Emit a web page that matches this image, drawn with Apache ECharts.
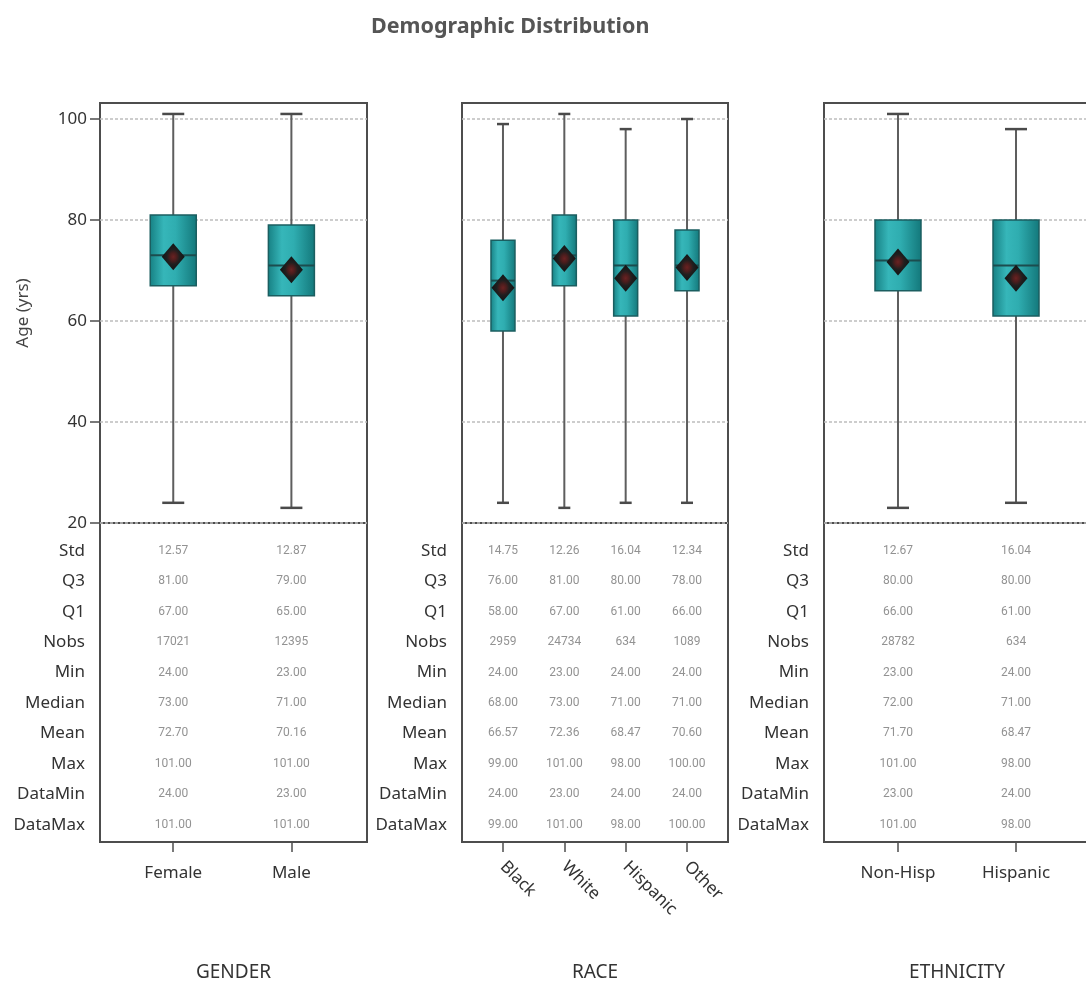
<!DOCTYPE html>
<html><head><meta charset="utf-8">
<script src="https://cdn.jsdelivr.net/npm/echarts@6/dist/echarts.min.js"></script>
<style>html,body{margin:0;padding:0;background:#fff}#c{width:1086px;height:991px}</style>
</head><body><div id="c"></div>
<script>
// ---------- DATA ----------
const rowNames = ['Std','Q3','Q1','Nobs','Min','Median','Mean','Max','DataMin','DataMax'];
const yTicks = [20, 40, 60, 80, 100];

const genderCats    = ['Female', 'Male'];
const genderStd     = [12.57, 12.87];
const genderQ3      = [81, 79];
const genderQ1      = [67, 65];
const genderNobs    = [17021, 12395];
const genderMin     = [24, 23];
const genderMedian  = [73, 71];
const genderMean    = [72.70, 70.16];
const genderMax     = [101, 101];
const genderDataMin = [24, 23];
const genderDataMax = [101, 101];

const raceCats    = ['Black', 'White', 'Hispanic', 'Other'];
const raceStd     = [14.75, 12.26, 16.04, 12.34];
const raceQ3      = [76, 81, 80, 78];
const raceQ1      = [58, 67, 61, 66];
const raceNobs    = [2959, 24734, 634, 1089];
const raceMin     = [24, 23, 24, 24];
const raceMedian  = [68, 73, 71, 71];
const raceMean    = [66.57, 72.36, 68.47, 70.60];
const raceMax     = [99, 101, 98, 100];
const raceDataMin = [24, 23, 24, 24];
const raceDataMax = [99, 101, 98, 100];

const ethCats    = ['Non-Hisp', 'Hispanic'];
const ethStd     = [12.67, 16.04];
const ethQ3      = [80, 80];
const ethQ1      = [66, 61];
const ethNobs    = [28782, 634];
const ethMin     = [23, 24];
const ethMedian  = [72, 71];
const ethMean    = [71.70, 68.47];
const ethMax     = [101, 98];
const ethDataMin = [23, 24];
const ethDataMax = [101, 98];

// ---------- BUILD ----------
function stats(cats, std, q3, q1, nobs, mn, med, mean, mx, dmin, dmax) {
  return {cats, rows: [std, q3, q1, nobs, mn, med, mean, mx, dmin, dmax],
          min: mn, q1, med, q3, max: mx, mean};
}
const panelData = [
  stats(genderCats, genderStd, genderQ3, genderQ1, genderNobs, genderMin, genderMedian, genderMean, genderMax, genderDataMin, genderDataMax),
  stats(raceCats, raceStd, raceQ3, raceQ1, raceNobs, raceMin, raceMedian, raceMean, raceMax, raceDataMin, raceDataMax),
  stats(ethCats, ethStd, ethQ3, ethQ1, ethNobs, ethMin, ethMedian, ethMean, ethMax, ethDataMin, ethDataMax)
];
const panelLayout = [
  {left: 100, width: 267, xMin: -0.62, xMax: 1.64, boxW: 46, capW: 22, rotate: 0, name: 'GENDER', labelMargin: 23},
  {left: 462, width: 266, xMin: -0.668, xMax: 3.668, boxW: 24, capW: 12, rotate: -45, name: 'RACE', labelMargin: 22},
  {left: 824, width: 266, xMin: -0.627, xMax: 1.627, boxW: 46, capW: 22, rotate: 0, name: 'ETHNICITY', labelMargin: 23}
];

const TOP = 103, MID = 523, BOT = 842;
const FONT = 'Noto Sans';
const FRAME = '#4d4d4d';

function fmt(rowIdx, v) {
  return rowNames[rowIdx] === 'Nobs' ? String(v) : v.toFixed(2);
}

function boxRenderer(boxW, capW) {
  return function (params, api) {
    const x = api.value(0);
    const pMin = api.coord([x, api.value(1)]);
    const pQ1 = api.coord([x, api.value(2)]);
    const pMed = api.coord([x, api.value(3)]);
    const pQ3 = api.coord([x, api.value(4)]);
    const pMax = api.coord([x, api.value(5)]);
    const cx = pMin[0];
    const wStyle = {stroke: '#5e5e5e', lineWidth: 2};
    return {
      type: 'group',
      children: [
        {type: 'line', shape: {x1: cx, y1: pMax[1], x2: cx, y2: pMin[1]}, style: wStyle},
        {type: 'line', shape: {x1: cx - capW / 2, y1: pMax[1], x2: cx + capW / 2, y2: pMax[1]}, style: {stroke: '#4a4a4a', lineWidth: 2.5}},
        {type: 'line', shape: {x1: cx - capW / 2, y1: pMin[1], x2: cx + capW / 2, y2: pMin[1]}, style: {stroke: '#4a4a4a', lineWidth: 2.5}},
        {type: 'rect', shape: {x: cx - boxW / 2, y: pQ3[1], width: boxW, height: pQ1[1] - pQ3[1]},
         style: {
           fill: new echarts.graphic.LinearGradient(0, 0, 1, 0, [
             {offset: 0, color: '#167f82'},
             {offset: 0.3, color: '#36b6b9'},
             {offset: 0.55, color: '#2fadb0'},
             {offset: 1, color: '#13777a'}
           ]),
           stroke: '#1b5e60', lineWidth: 1.5
         }},
        {type: 'line', shape: {x1: cx - boxW / 2, y1: pMed[1], x2: cx + boxW / 2, y2: pMed[1]}, style: {stroke: '#1c4c4e', lineWidth: 2}}
      ]
    };
  };
}

const grid = [], xAxis = [], yAxis = [], series = [];
panelLayout.forEach((L, i) => {
  const D = panelData[i];
  const idx = D.cats.map((_, k) => k);
  grid.push({left: L.left, width: L.width, top: TOP, height: MID - TOP, show: true,
             borderColor: FRAME, borderWidth: 2, containLabel: false, outerBoundsMode: 'none'});
  grid.push({left: L.left, width: L.width, top: MID, height: BOT - MID, show: true,
             borderColor: FRAME, borderWidth: 2, containLabel: false, outerBoundsMode: 'none'});
  // top x axis (hidden)
  xAxis.push({type: 'value', gridIndex: 2 * i, min: L.xMin, max: L.xMax, show: false,
              axisLine: {onZero: false}});
  // bottom x axis (categories)
  xAxis.push({
    type: 'value', gridIndex: 2 * i + 1, min: L.xMin, max: L.xMax, position: 'bottom',
    axisLine: {show: true, onZero: false, lineStyle: {color: FRAME, width: 2}},
    axisTick: {show: true, length: 10, customValues: idx, lineStyle: {color: FRAME, width: 1.5}},
    axisLabel: {show: true, customValues: idx, formatter: v => D.cats[Math.round(v)] || '',
                fontSize: 17, color: '#333', fontFamily: FONT, margin: L.labelMargin, rotate: L.rotate},
    splitLine: {show: false},
    name: L.name, nameLocation: 'middle', nameGap: 121,
    nameTextStyle: {fontSize: 19, color: '#333', fontFamily: FONT}
  });
  // top y axis
  yAxis.push({
    type: 'value', gridIndex: 2 * i, min: 20, max: 103.17, interval: 20, position: 'left',
    axisLine: {show: false, onZero: false},
    axisTick: {show: i === 0, length: 10, customValues: yTicks, lineStyle: {color: FRAME, width: 1.5}},
    axisLabel: {show: i === 0, customValues: yTicks, fontSize: 17, color: '#333', fontFamily: FONT, margin: 13},
    splitLine: {show: true, lineStyle: {color: '#bdbdbd', width: 1.5, type: [3, 2]}},
    name: i === 0 ? 'Age (yrs)' : '', nameLocation: 'middle', nameGap: 68,
    nameTextStyle: {fontSize: 17, color: '#444', fontFamily: FONT}
  });
  // table y axis
  yAxis.push({
    type: 'value', gridIndex: 2 * i + 1, min: -0.92, max: 9.57, inverse: true, position: 'left',
    axisLine: {show: false, onZero: false}, axisTick: {show: false},
    axisLabel: {show: true, customValues: rowNames.map((_, k) => k), formatter: v => rowNames[Math.round(v)] || '',
                fontSize: 17, color: '#333', fontFamily: FONT, margin: 15},
    splitLine: {show: false}
  });
  // boxes
  series.push({
    type: 'custom', xAxisIndex: 2 * i, yAxisIndex: 2 * i, silent: true,
    renderItem: boxRenderer(L.boxW, L.capW),
    encode: {x: 0, y: [1, 2, 3, 4, 5]},
    data: idx.map(k => [k, D.min[k], D.q1[k], D.med[k], D.q3[k], D.max[k]]),
    z: 2
  });
  // means
  series.push({
    type: 'scatter', xAxisIndex: 2 * i, yAxisIndex: 2 * i, silent: true,
    symbol: 'diamond', symbolSize: [23, 27],
    itemStyle: {opacity: 1, color: new echarts.graphic.RadialGradient(0.5, 0.5, 0.5, [
      {offset: 0, color: '#6a2222'}, {offset: 0.3, color: '#4a1d1d'},
      {offset: 0.55, color: '#1f1f1f'}, {offset: 1, color: '#141414'}])},
    data: idx.map(k => [k, D.mean[k]]),
    z: 3
  });
  // table values
  const tdata = [];
  rowNames.forEach((_, r) => idx.forEach(k => tdata.push([k, r, D.rows[r][k]])));
  series.push({
    type: 'scatter', xAxisIndex: 2 * i + 1, yAxisIndex: 2 * i + 1, silent: true,
    symbolSize: 1, itemStyle: {color: 'transparent'},
    label: {show: true, position: 'inside', formatter: p => fmt(p.value[1], p.value[2]),
            fontSize: 12, color: '#777', fontFamily: 'Roboto'},
    data: tdata
  });
});

const chart = echarts.init(document.getElementById('c'), null, {renderer: 'canvas'});
chart.setOption({
  animation: false,
  backgroundColor: '#fff',
  textStyle: {fontFamily: FONT},
  title: {text: 'Demographic Distribution', left: 366, top: 11,
          textStyle: {fontSize: 21.5, fontWeight: 'bold', color: '#555', fontFamily: FONT}},
  grid, xAxis, yAxis, series
});
</script>
</body></html>
